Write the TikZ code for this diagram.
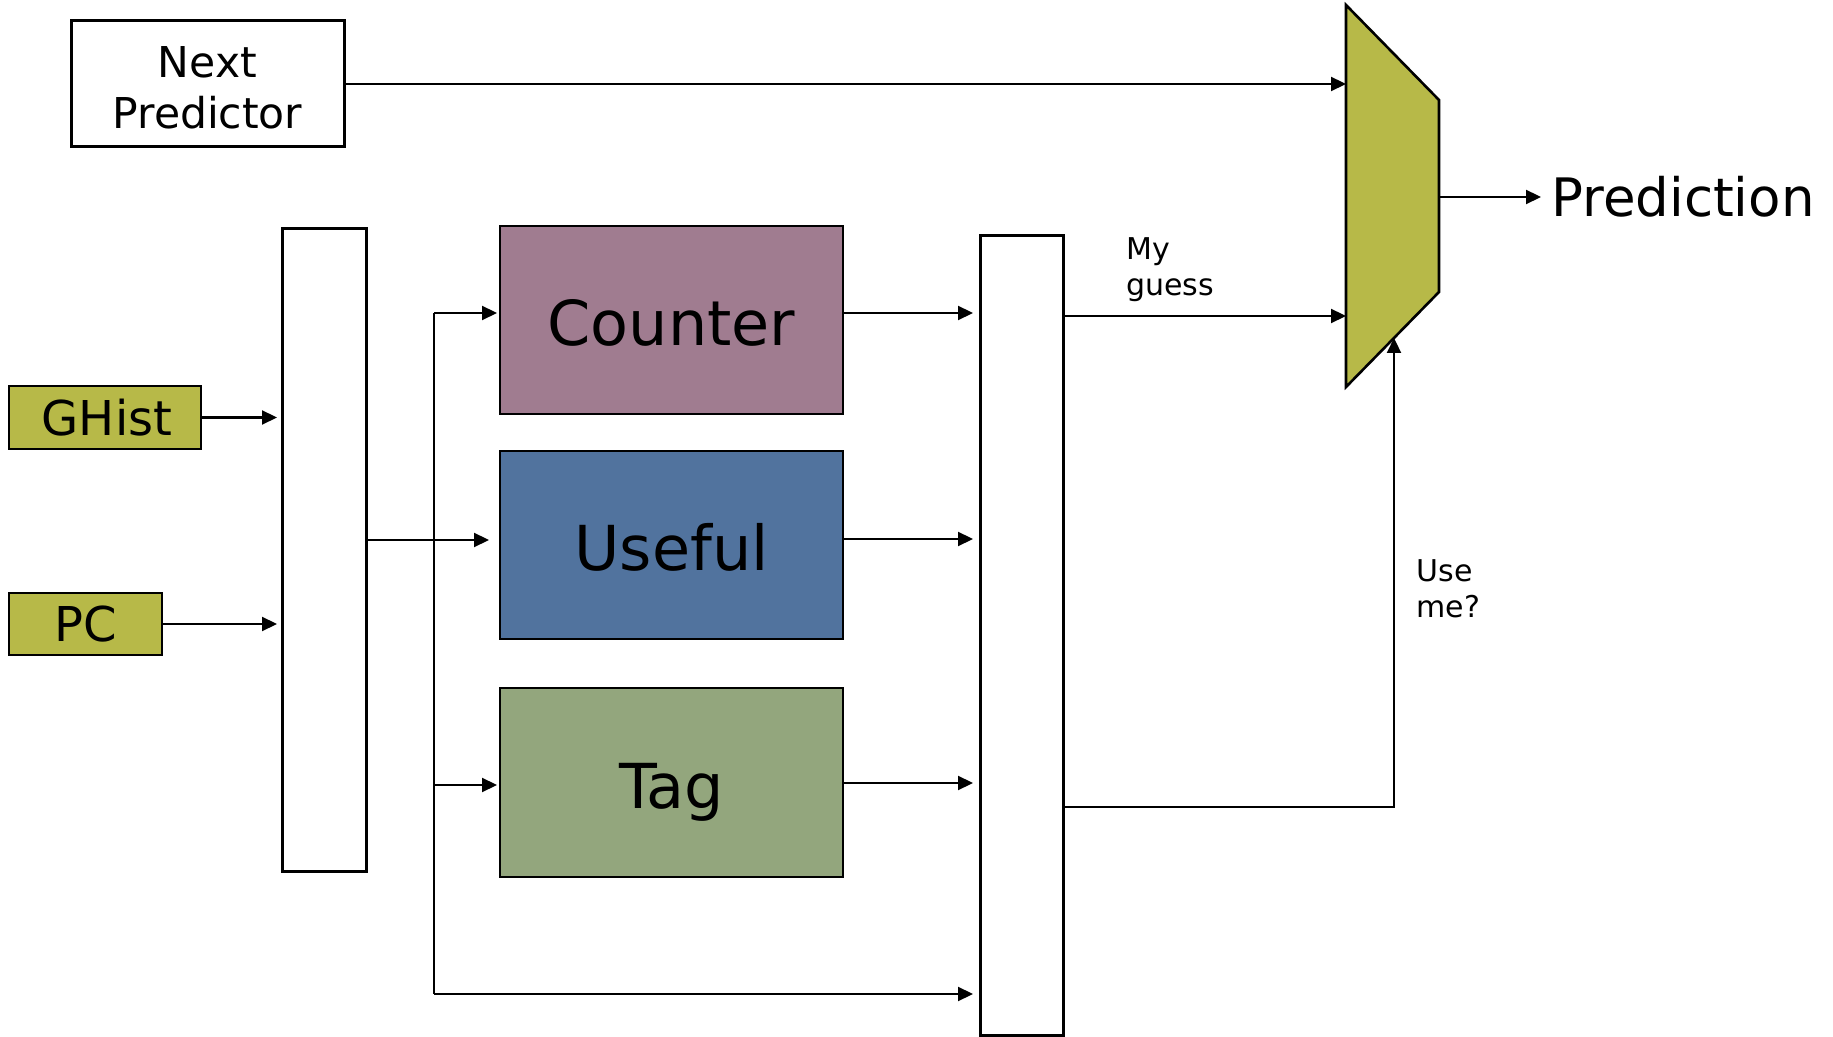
\documentclass[tikz,border=0pt]{standalone}
\usepackage{fontspec}
\setmainfont{DejaVu Sans}
\usetikzlibrary{arrows.meta,calc}
\definecolor{muxolive}{RGB}{183,185,72}
\definecolor{countercol}{RGB}{160,124,144}
\definecolor{usefulcol}{RGB}{81,115,158}
\definecolor{tagcol}{RGB}{147,166,125}
\begin{document}
\begin{tikzpicture}[x=0.5pt,y=-0.5pt,
  plainbox/.style={draw, line width=1.5pt, fill=white, inner sep=0pt, outer sep=0pt},
  inbox/.style={draw, line width=1pt, fill=muxolive, inner sep=0pt, outer sep=0pt, font=\fontsize{24}{28}\selectfont},
  tablebox/.style={draw, line width=1pt, inner sep=0pt, outer sep=0pt, minimum width=171.5pt, minimum height=94pt, text height=26pt, text depth=0pt, font=\fontsize{31}{36}\selectfont},
  reg/.style={draw, line width=1.5pt, fill=white, inner sep=0pt, outer sep=0pt},
  wire/.style={line width=1.1pt},
  arr/.style={wire, -{Triangle[length=7.5pt,width=7pt]}},
  smalllabel/.style={anchor=north west, inner sep=0pt, align=left, font=\fontsize{15}{18}\selectfont}
]
\useasboundingbox (0,0) rectangle (1833,1037);

% nodes
\node[plainbox, minimum width=136.5pt, minimum height=63pt, align=center, font=\fontsize{21.25}{25.5}\selectfont] (np) at (207.5,84) {\rule{0pt}{19pt}Next\\Predictor};
\node[inbox, minimum width=96pt, minimum height=31.5pt] (ghist) at (105,417.5) {\hspace{2pt}GHist};
\node[inbox, minimum width=76.5pt, minimum height=31pt] (pc) at (85.5,624) {PC};
\node[reg, minimum width=42pt, minimum height=321pt] (lreg) at (324,550) {};
\node[tablebox, fill=countercol] (counter) at (671.5,320) {Counter};
\node[tablebox, fill=usefulcol] (useful) at (671.5,545) {Useful};
\node[tablebox, fill=tagcol] (tag) at (671.5,782.5) {Tag};
\node[reg, minimum width=41.5pt, minimum height=399.5pt] (rreg) at (1021.5,635.5) {};

% mux
\coordinate (mtl) at (1346,5);
\coordinate (mtr) at (1439,100);
\coordinate (mbr) at (1439,292);
\coordinate (mbl) at (1346,387);
\coordinate (mout) at (1439,197);
\coordinate (museme) at (1394,338);
\draw[fill=muxolive, line width=1.3pt, line join=miter] (mtl) -- (mtr) -- (mbr) -- (mbl) -- cycle;

\node[anchor=west, inner sep=0pt, font=\fontsize{26.5}{30}\selectfont] (pred) at (1551,197) {Prediction};

% row levels
\coordinate (rowL) at (0,540);
\coordinate (rowA) at (0,313);
\coordinate (rowU) at (0,539);
\coordinate (rowT) at (0,783);
\coordinate (rowG) at (0,316);
\coordinate (rowM) at (0,807);
\coordinate (bustop) at (434,313);
\coordinate (bustag) at (434,785);
\coordinate (busbot) at (434,994);

% connectors
\draw[arr] (np.east) -- (np.east -| mtl);
\draw[arr, shorten >=2.5pt] (ghist.east) -- (ghist.east -| lreg.west);
\draw[arr, shorten >=2.5pt] (pc.east) -- (pc.east -| lreg.west);
\draw[arr, shorten >=5.5pt] (lreg.east |- rowL) -- (useful.west |- rowL);
\draw[wire] (bustop) -- (busbot);
\draw[arr, shorten >=1.5pt] (bustop) -- (bustop -| counter.west);
\draw[arr, shorten >=1.5pt] (bustag) -- (bustag -| tag.west);
\draw[arr, shorten >=3.5pt] (busbot) -- (busbot -| rreg.west);
\draw[arr, shorten >=3.5pt] (counter.east |- rowA) -- (rreg.west |- rowA);
\draw[arr, shorten >=3.5pt] (useful.east |- rowU) -- (rreg.west |- rowU);
\draw[arr, shorten >=3.5pt] (tag.east |- rowT) -- (rreg.west |- rowT);
\draw[arr] (rreg.east |- rowG) -- (mtl |- rowG);
\draw[arr] (rreg.east |- rowM) -| (museme);
\draw[arr, shorten >=5pt] (mout) -- (pred.west);

% labels
\node[smalllabel] (myguess) at (1126,237) {My\\guess};
\node[smalllabel] (useme) at (1416,559) {Use\\me?};
\end{tikzpicture}
\end{document}
